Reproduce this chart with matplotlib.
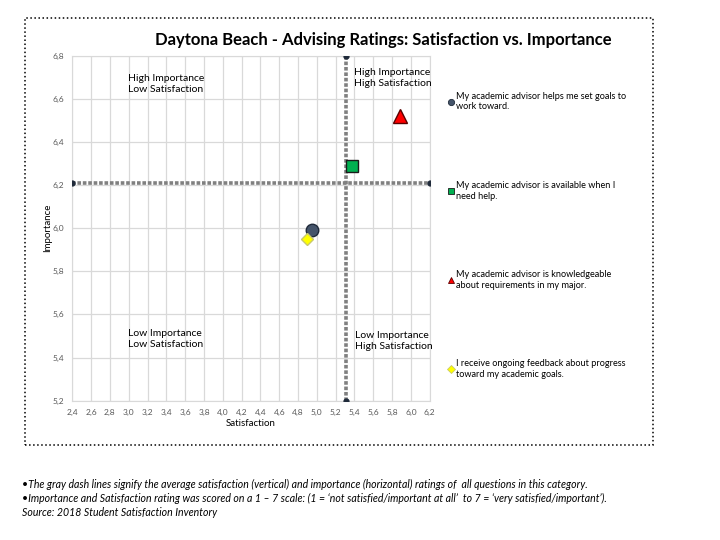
import matplotlib
matplotlib.use('Agg')
import matplotlib.pyplot as plt
from matplotlib.lines import Line2D
from matplotlib.patches import Rectangle

plt.rcParams['font.family'] = ['Lato', 'DejaVu Sans']

# ratings (satisfaction, importance) per question
questions = ['My academic advisor helps me set goals to\nwork toward.',
             'My academic advisor is available when I\nneed help.',
             'My academic advisor is knowledgeable\nabout requirements in my major.',
             'I receive ongoing feedback about progress\ntoward my academic goals.']
satisfaction = [4.95, 5.37, 5.88, 4.90]
importance = [5.99, 6.29, 6.52, 5.95]
avg_sat = 5.31
avg_imp = 6.21

xticks = [2.4, 2.6, 2.8, 3.0, 3.2, 3.4, 3.6, 3.8, 4.0, 4.2, 4.4, 4.6, 4.8, 5.0,
          5.2, 5.4, 5.6, 5.8, 6.0, 6.2]
yticks = [5.2, 5.4, 5.6, 5.8, 6.0, 6.2, 6.4, 6.6, 6.8]

markers = ['o', 's', '^', 'D']
colors = ['#44546A', '#00B050', '#FF0000', '#FFFF00']
edges = ['#1F2A3A', '#1A1A1A', '#5A0000', '#C9C96A']
sizes = [9, 9, 10, 6.5]

fig = plt.figure(figsize=(7.2, 5.4), dpi=100)
ax = fig.add_axes([0.1004, 0.258, 0.4964, 0.639])

# average lines
ax.plot([xticks[0], xticks[-1]], [avg_imp, avg_imp], color='#808080', lw=2.6,
        ls=(0, (1.0, 0.5)), zorder=2)
ax.plot([avg_sat, avg_sat], [yticks[0], yticks[-1]], color='#808080', lw=2.6,
        ls=(0, (1.0, 0.5)), zorder=2)
ax.plot([xticks[0], xticks[-1]], [avg_imp, avg_imp], ls='none', marker='o',
        ms=3.5, color='#1F2A3A', zorder=3)
ax.plot([avg_sat, avg_sat], [yticks[0], yticks[-1]], ls='none', marker='o',
        ms=3.5, color='#1F2A3A', zorder=3)

for i in range(len(questions)):
    ax.plot(satisfaction[i], importance[i], ls='none', marker=markers[i],
            ms=sizes[i], mfc=colors[i], mec=edges[i], mew=1, zorder=4)

ax.set_xlim(xticks[0], xticks[-1])
ax.set_ylim(yticks[0], yticks[-1])
ax.set_xticks(xticks)
ax.set_yticks(yticks)
ax.set_xticklabels([('%.1f' % v).replace('.', ',') for v in xticks])
ax.set_yticklabels([('%.1f' % v).replace('.', ',') for v in yticks])
ax.tick_params(length=0, labelsize=6, labelcolor='#595959', pad=6)
ax.grid(True, color='#D9D9D9', lw=0.9)
ax.set_axisbelow(True)
for s in ax.spines.values():
    s.set_color('#D9D9D9')
ax.set_xlabel('Satisfaction', fontsize=7, labelpad=2)
ax.set_ylabel('Importance', fontsize=7, labelpad=0)

# quadrant labels
ax.text(0.156, 0.918, 'High Importance\nLow Satisfaction', transform=ax.transAxes,
        fontsize=7.5, va='center', ha='left')
ax.text(0.787, 0.935, 'High Importance\nHigh Satisfaction', transform=ax.transAxes,
        fontsize=7.5, va='center', ha='left')
ax.text(0.156, 0.179, 'Low Importance\nLow Satisfaction', transform=ax.transAxes,
        fontsize=7.5, va='center', ha='left')
ax.text(0.79, 0.173, 'Low Importance\nHigh Satisfaction', transform=ax.transAxes,
        fontsize=7.5, va='center', ha='left')

handles = [Line2D([], [], ls='none', marker=markers[i], ms=4.5, mfc=colors[i],
                  mec=edges[i], mew=0.6) for i in range(len(questions))]
fig.legend(handles, questions, loc='upper left', bbox_to_anchor=(0.617, 0.838),
           frameon=False, fontsize=6.6, handlelength=0.5, handletextpad=0.3,
           labelspacing=7.6, borderpad=0)

fig.text(0.532, 0.926, 'Daytona Beach - Advising Ratings: Satisfaction vs. Importance',
         ha='center', va='center', fontsize=12, fontweight='bold')

# dotted frame
fig.add_artist(Rectangle((25 / 720, 1 - 445 / 540), 628 / 720, 427 / 540,
                         transform=fig.transFigure, fill=False, ls=':',
                         lw=1.1, ec='black'))

fig.text(0.03, 1 - 484 / 540, '\u2022The gray dash lines signify the average satisfaction (vertical) '
         'and importance (horizontal) ratings of  all questions in this category.',
         fontsize=7.6, style='italic', va='center')
fig.text(0.03, 1 - 498 / 540, '\u2022Importance and Satisfaction rating was scored on a 1 \u2013 7 scale: '
         '(1 = \u2018not satisfied/important at all\u2019  to 7 = \u2018very satisfied/important\u2019).',
         fontsize=7.6, style='italic', va='center')
fig.text(0.03, 1 - 513 / 540, 'Source: 2018 Student Satisfaction Inventory',
         fontsize=7.6, style='italic', va='center')

fig.savefig('out.png', dpi=100)
